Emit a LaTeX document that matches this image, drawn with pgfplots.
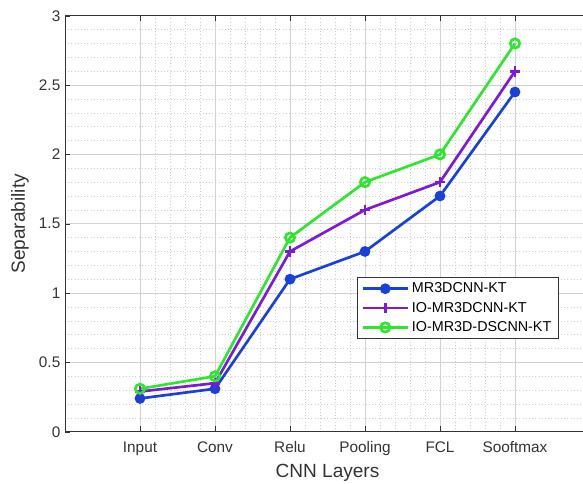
\documentclass[border=0pt]{standalone}
\usepackage{pgfplots}
\pgfplotsset{compat=1.18}
\usepackage{fontspec}
\setmainfont{Liberation Sans}
\definecolor{cblue}{RGB}{25,65,215}
\definecolor{cpurple}{RGB}{125,25,215}
\definecolor{cgreen}{RGB}{45,230,45}
\begin{document}
\begin{tikzpicture}
\clip (-48.75pt,-38.5pt) rectangle (388.5pt,323.8pt);
\useasboundingbox (-48.75pt,-38.5pt) rectangle (388.5pt,323.8pt);
\begin{axis}[
  at={(0pt,0pt)}, anchor=south west,
  scale only axis, width=393.75pt, height=312pt,
  xmin=0, xmax=7, ymin=0, ymax=3,
  axis x line*=box, axis y line*=left,
  xtick={1,2,3,4,5,6},
  xticklabels={Input,Conv,Relu,Pooling,FCL,Sooftmax},
  ytick={0,0.5,1,1.5,2,2.5,3},
  minor x tick num=4, minor y tick num=4,
  grid=both,
  major grid style={gray!35, line width=0.4pt},
  minor grid style={gray!40, dotted, line width=0.4pt},
  tick align=inside, major tick length=4pt, minor tick length=0pt,
  axis line style={black!80, line width=0.6pt},
  tick style={black!80},
  ticklabel style={font=\fontsize{11.5}{13}\selectfont, text=black!80},
  xticklabel style={yshift=-4pt},
  /pgf/number format/assume math mode=true,
  xlabel={CNN Layers}, ylabel={Separability},
  label style={font=\fontsize{14.3}{16}\selectfont, text=black!80},
  xlabel style={at={(axis description cs:0.5,0)}, anchor=base, yshift=-34pt},
  ylabel style={at={(axis description cs:0,0.5)}, anchor=base, yshift=30pt},
  legend style={at={(axis description cs:0.556,0.372)}, anchor=north west,
    font=\fontsize{10.75}{12}\selectfont, draw=black!80, line width=0.6pt,
    row sep=1.5pt, inner xsep=3pt, inner ysep=2pt},
  legend cell align=left,
  legend image code/.code={\draw[mark repeat=2,mark phase=2,#1] plot coordinates {(0pt,0pt) (17pt,0pt) (34pt,0pt)};},
]
\addplot[cblue, line width=2pt, mark=*, mark size=3pt] coordinates {
(1,0.24) (2,0.31) (3,1.10) (4,1.30) (5,1.70) (6,2.45)};
\addlegendentry{MR3DCNN-KT}
\addplot[cpurple, line width=2pt, mark=+, mark size=4pt, mark options={line width=2pt}] coordinates {
(1,0.29) (2,0.35) (3,1.30) (4,1.60) (5,1.80) (6,2.60)};
\addlegendentry{IO-MR3DCNN-KT}
\addplot[cgreen, line width=2pt, mark=o, mark size=3.5pt, mark options={line width=2pt}] coordinates {
(1,0.31) (2,0.40) (3,1.40) (4,1.80) (5,2.00) (6,2.80)};
\addlegendentry{IO-MR3D-DSCNN-KT}
\end{axis}
\end{tikzpicture}
\end{document}
